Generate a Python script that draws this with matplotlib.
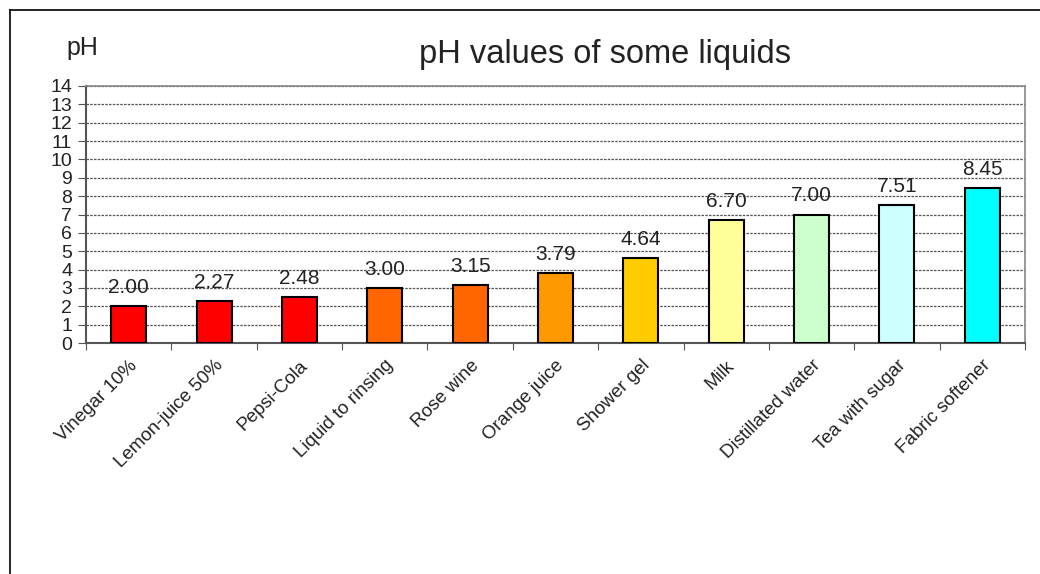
import matplotlib
matplotlib.use("Agg")
import matplotlib.pyplot as plt
import numpy as np

plt.rcParams['font.family'] = ['Liberation Sans', 'DejaVu Sans']

liquids = ['Vinegar 10%', 'Lemon-juice 50%', 'Pepsi-Cola', 'Liquid to rinsing',
           'Rose wine', 'Orange juice', 'Shower gel', 'Milk', 'Distillated water',
           'Tea with sugar', 'Fabric softener']
ph = [2.00, 2.27, 2.48, 3.00, 3.15, 3.79, 4.64, 6.70, 7.00, 7.51, 8.45]
colors = ['#FF0000', '#FF0000', '#FF0000', '#FF6600', '#FF6600', '#FF9900',
          '#FFCC00', '#FFFF99', '#CCFFCC', '#CCFFFF', '#00FFFF']

fig = plt.figure(figsize=(10.4, 5.74), dpi=100)
ax = fig.add_axes([86/1040, 1 - 343/574, (1025-86)/1040, (343-86)/574])

# outer frame (only left and top visible)
fig.add_artist(plt.Line2D([10/1040, 10/1040], [0, 1 - 10/574], color='black', lw=1.2))
fig.add_artist(plt.Line2D([10/1040, 1], [1 - 10/574, 1 - 10/574], color='black', lw=1.2))

x = np.arange(len(liquids))
ax.bar(x, ph, width=0.41, color=colors, edgecolor='black', linewidth=1.5, zorder=3)

for xi, v in zip(x, ph):
    ax.text(xi, v + 0.5, f'{v:.2f}', ha='center', va='bottom', fontsize=15, color='#222222')

ax.set_xlim(-0.5, len(liquids) - 0.5)
ax.set_ylim(0, 14)
ax.set_yticks(range(0, 15))
ax.tick_params(axis='y', labelsize=14, length=6, color='#555555', pad=4, labelcolor='#222222')
ax.yaxis.grid(True, linestyle=(0, (2, 1)), color='#555555', linewidth=0.9)

# category ticks between bars, labels at bar centres
ax.set_xticks(np.arange(-0.5, len(liquids)), minor=False)
ax.set_xticklabels([])
ax.set_xticks(x, minor=True)
ax.set_xticklabels(liquids, minor=True, rotation=45, ha='right', va='top',
                   rotation_mode='anchor', fontsize=13.5, color='#222222')
ax.tick_params(axis='x', which='major', length=5, color='#555555')
ax.tick_params(axis='x', which='minor', length=0, pad=10)

for side in ['left', 'bottom']:
    ax.spines[side].set_color('#555555')
    ax.spines[side].set_linewidth(1.5)
for side in ['top', 'right']:
    ax.spines[side].set_color('#888888')
    ax.spines[side].set_linewidth(1.2)

fig.text(605/1040, 1 - 54/574, 'pH values of some liquids', ha='center', va='center',
         fontsize=23.5, color='#222222')
fig.text(82/1040, 1 - 48/574, 'pH', ha='center', va='center', fontsize=18, color='#222222')

fig.savefig('out.png', dpi=100)
